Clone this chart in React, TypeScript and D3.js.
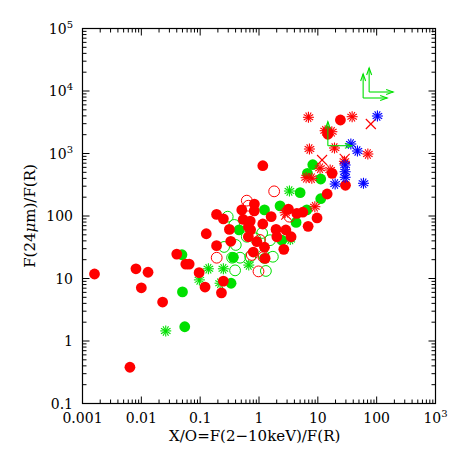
import React from "react";
import * as d3 from "d3";

// ---- data (x = X/O, y = F24/FR) ----
const redFilled: [number, number][] = [
  [0.0016, 11.8], [0.0064, 0.38], [0.0081, 14.3], [0.010, 7.1], [0.013, 12.6],
  [0.023, 4.2], [0.040, 24.6], [0.057, 17], [0.065, 17], [0.096, 12.4],
  [0.121, 7.3], [0.127, 52], [0.19, 106], [0.19, 33.5], [0.248, 90],
  [0.23, 5.9], [0.248, 9.1], [0.314, 61], [0.331, 39.4], [0.51, 125],
  [0.54, 88], [0.66, 67], [0.66, 46.6], [0.71, 83], [0.835, 155],
  [0.83, 121], [0.92, 38.8], [0.80, 26.5], [1.16, 638], [1.16, 74.5],
  [1.24, 31.6], [1.27, 21], [1.61, 97.5], [1.95, 61], [2.01, 46.6],
  [2.64, 29.3], [2.86, 59.7], [3.16, 129], [3.51, 46.6], [4.4, 110],
  [5.56, 115], [6.84, 68.4], [9.7, 93], [14.4, 225], [17.5, 482],
  [14.8, 2030], [14.6, 2250], [24.2, 3435], [29.5, 310], [0.72, 60],
];
const greenFilled: [number, number][] = [
  [0.049, 24], [0.050, 6.1], [0.0547, 1.69], [0.335, 8.4], [0.367, 21.8],
  [0.459, 60], [1.24, 125], [1.24, 21], [2.28, 145], [4.27, 79],
  [5.0, 236], [6.5, 125], [6.65, 482], [8.2, 662], [11.2, 391],
  [11.2, 189], [2.44, 41],
];
const redOpen: [number, number][] = [
  [0.191, 21.5], [0.62, 176], [1.81, 248], [0.98, 13], [0.755, 23.8],
  [1.04, 41.3], [3.29, 97.5], [0.66, 146], [1.19, 22],
];
const greenOpen: [number, number][] = [
  [0.294, 97.5], [0.255, 32], [0.349, 21.5], [0.392, 13.5], [0.477, 21.5],
  [0.403, 34.4], [0.62, 46.6], [0.71, 22.3], [1.31, 13.2], [1.72, 22.3],
  [1.19, 23.8], [1.13, 53.5], [1.54, 41], [0.86, 44], [0.38, 72],
];
const greenStar: [number, number][] = [
  [0.026, 1.45], [0.097, 9.5], [0.138, 14.3], [0.248, 14.3], [0.218, 8.4],
  [0.67, 16.4], [3.29, 251], [3.4, 42],
];
const redStar: [number, number][] = [
  [6.92, 3795], [7.2, 1180], [38.3, 3880], [19.2, 1225], [70.8, 982],
  [13.3, 2317], [17.3, 2233], [8.9, 141], [6.32, 410], [7.9, 401],
  [10.9, 580], [16.2, 545], [28.3, 750], [2.78, 113],
];
const redCross: [number, number][] = [
  [79.6, 2965], [11.8, 787], [28.6, 820], [2.9, 105],
];
const blueStar: [number, number][] = [
  [103, 3980], [36.4, 1419], [47.1, 1096], [29.1, 655], [29.1, 511],
  [29.1, 416], [19.7, 325], [59.7, 334],
];
const greenLimits: [number, number][] = [
  [58.9, 7727], [74.5, 9637], [14.8, 1333],
];

const xTickValues = [0.001, 0.01, 0.1, 1, 10, 100, 1000];
const xTickLabels = ["0.001", "0.01", "0.1", "1", "10", "100", "10^3"];
const yTickValues = [0.1, 1, 10, 100, 1000, 1e4, 1e5];
const yTickLabels = ["0.1", "1", "10", "100", "10^3", "10^4", "10^5"];

const RED = "#ff0000";
const GREEN = "#00e000";
const BLUE = "#0000ff";
const FONT = "'DejaVu Serif', serif";

function Label({ text, ...rest }: any) {
  const [base, sup] = text.split("^");
  return (
    <text {...rest}>
      {base}
      {sup !== undefined && (
        <tspan fontSize={10} dy={-6}>
          {sup}
        </tspan>
      )}
    </text>
  );
}

function Star({ cx, cy, color }: { cx: number; cy: number; color: string }) {
  const r = 5.5;
  const angles = [0, 30, 60, 90, 120, 150];
  return (
    <g stroke={color} strokeWidth={1.1}>
      {angles.map((a) => {
        const t = (a * Math.PI) / 180;
        return (
          <line key={a} x1={cx - r * Math.cos(t)} y1={cy - r * Math.sin(t)} x2={cx + r * Math.cos(t)} y2={cy + r * Math.sin(t)} />
        );
      })}
    </g>
  );
}

export default function App() {
  const L = 82.5, R = 435.5, T = 28.5, B = 403.5;
  const x = d3.scaleLog().domain([1e-3, 1e3]).range([L, R]);
  const y = d3.scaleLog().domain([0.1, 1e5]).range([B, T]);
  const isMajor = (v: number) => Math.abs(Math.log10(v) - Math.round(Math.log10(v))) < 1e-6;
  const xt = x.ticks();
  const yt = y.ticks();
  const major = 7, minor = 4;
  const rC = 5.4;
  const arrowLen = 24;

  return (
    <svg width={463} height={463} style={{ position: "absolute", left: 0, top: 0 }} fontFamily={FONT}>
      <rect width={463} height={463} fill="#fff" />
      {/* markers */}
      {greenFilled.map((d, i) => (
        <circle key={"gf" + i} cx={x(d[0])} cy={y(d[1])} r={rC} fill={GREEN} />
      ))}
      {greenOpen.map((d, i) => (
        <circle key={"go" + i} cx={x(d[0])} cy={y(d[1])} r={rC} fill="none" stroke={GREEN} strokeWidth={1} />
      ))}
      {greenStar.map((d, i) => (
        <Star key={"gs" + i} cx={x(d[0])} cy={y(d[1])} color={GREEN} />
      ))}
      {redFilled.map((d, i) => (
        <circle key={"rf" + i} cx={x(d[0])} cy={y(d[1])} r={rC} fill={RED} />
      ))}
      {redOpen.map((d, i) => (
        <circle key={"ro" + i} cx={x(d[0])} cy={y(d[1])} r={rC} fill="none" stroke={RED} strokeWidth={1} />
      ))}
      {redStar.map((d, i) => (
        <Star key={"rs" + i} cx={x(d[0])} cy={y(d[1])} color={RED} />
      ))}
      {redCross.map((d, i) => {
        const cx = x(d[0]), cy = y(d[1]), s = 5;
        return (
          <g key={"rx" + i} stroke={RED} strokeWidth={1.1}>
            <line x1={cx - s} y1={cy - s} x2={cx + s} y2={cy + s} />
            <line x1={cx - s} y1={cy + s} x2={cx + s} y2={cy - s} />
          </g>
        );
      })}
      {blueStar.map((d, i) => (
        <Star key={"bs" + i} cx={x(d[0])} cy={y(d[1])} color={BLUE} />
      ))}
      {greenLimits.map((d, i) => {
        const cx = x(d[0]), cy = y(d[1]);
        const ty = cy - arrowLen, tx = cx + arrowLen;
        return (
          <g key={"gl" + i} stroke={GREEN} strokeWidth={1.1} fill="none">
            <line x1={cx} y1={cy} x2={cx} y2={ty} />
            <polyline points={`${cx - 2.5},${ty + 7} ${cx},${ty} ${cx + 2.5},${ty + 7}`} />
            <line x1={cx} y1={cy} x2={tx} y2={cy} />
            <polyline points={`${tx - 7},${cy - 2.5} ${tx},${cy} ${tx - 7},${cy + 2.5}`} />
          </g>
        );
      })}
      {/* frame */}
      <rect x={L} y={T} width={R - L} height={B - T} fill="none" stroke="#000" strokeWidth={1.2} />
      {/* x ticks */}
      <g stroke="#000" strokeWidth={1}>
        {xt.map((v, i) => {
          const len = isMajor(v) ? major : minor;
          const px = x(v);
          return (
            <g key={"xt" + i}>
              <line x1={px} x2={px} y1={B} y2={B - len} />
              <line x1={px} x2={px} y1={T} y2={T + len} />
            </g>
          );
        })}
        {yt.map((v, i) => {
          const len = isMajor(v) ? major : minor;
          const py = y(v);
          return (
            <g key={"yt" + i}>
              <line x1={L} x2={L + len} y1={py} y2={py} />
              <line x1={R} x2={R - len} y1={py} y2={py} />
            </g>
          );
        })}
      </g>
      {/* tick labels */}
      {xTickValues.map((v, i) => (
        <Label key={"xl" + i} text={xTickLabels[i]} x={x(v)} y={423} textAnchor="middle" fontSize={14} fill="#000" />
      ))}
      {yTickValues.map((v, i) => (
        <Label key={"yl" + i} text={yTickLabels[i]} x={73} y={y(v) + 5} textAnchor="end" fontSize={14} fill="#000" />
      ))}
      {/* axis titles */}
      <text x={254.7} y={441} textAnchor="middle" fontSize={15} fill="#000">
        X/O=F(2−10keV)/F(R)
      </text>
      <text transform="translate(35,216) rotate(-90)" textAnchor="middle" fontSize={15} fill="#000">
        F(24<tspan fontStyle="italic">μ</tspan>m)/F(R)
      </text>
    </svg>
  );
}
